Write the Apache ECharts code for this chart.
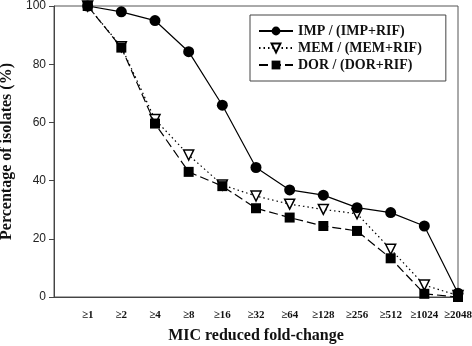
<!DOCTYPE html>
<html>
<head>
<meta charset="utf-8">
<script src="https://cdn.jsdelivr.net/npm/echarts@6/dist/echarts.min.js"></script>
<style>
html,body{margin:0;padding:0;background:#fff;}
#chart{width:472px;height:346px;}
</style>
</head>
<body>
<div id="chart"></div>
<script>
	// fold-change categories
	var categories = ['≥1','≥2','≥4','≥8','≥16','≥32','≥64','≥128','≥256','≥512','≥1024','≥2048'];
	// percentage of isolates
	var impValues = [100, 98, 95, 84.3, 65.9, 44.5, 36.8, 35, 30.7, 29, 24.4, 1.3];
	var memValues = [100, 86, 61, 48.8, 38.5, 34.7, 31.9, 30.1, 28.6, 16.4, 4.1, 0.5];
	var dorValues = [100, 85.7, 59.6, 43, 38.1, 30.5, 27.3, 24.4, 22.7, 13.3, 1.1, 0];
	var yTicks = [0, 20, 40, 60, 80, 100];

	function toPoints(list){
		var pts = [];
		for(var i = 0; i < list.length; i++){
			pts.push([i + 1, list[i]]);
		}
		return pts;
	}

	var serif = '"Liberation Serif", "DejaVu Serif", serif';
	var sans = '"Liberation Sans", Arial, sans-serif';

	var chart = echarts.init(document.getElementById('chart'));
	chart.setOption({
		animation:false,
		backgroundColor:'#fff',
		grid:{
			left:54,
			right:14,
			top:6,
			bottom:49,
			outerBoundsMode:'none',
			containLabel:false,
			show:true,
			borderColor:'#555',
			borderWidth:1
		},
		legend:{
			orient:'vertical',
			left:250,
			top:15,
			width:183,
			padding:[9,24,9,8],
			itemGap:3,
			itemWidth:34,
			itemHeight:11,
			borderColor:'#444',
			borderWidth:1,
			backgroundColor:'#fff',
			textStyle:{
				fontFamily:serif,
				fontWeight:'bold',
				fontSize:14,
				color:'#111'
			},
			data:['IMP / (IMP+RIF)','MEM / (MEM+RIF)','DOR / (DOR+RIF)']
		},
		xAxis:{
			type:'value',
			min:0,
			max:12,
			interval:1,
			name:'MIC reduced fold-change',
			nameLocation:'middle',
			nameGap:31,
			nameTextStyle:{
				fontFamily:serif,
				fontWeight:'bold',
				fontSize:16,
				color:'#111'
			},
			axisLine:{lineStyle:{color:'#444',width:1}},
			axisTick:{show:false},
			splitLine:{show:false},
			axisLabel:{
				margin:13,
				fontFamily:serif,
				fontWeight:'bold',
				fontSize:11,
				color:'#111',
				formatter:function(v){
					return v >= 1 ? categories[v - 1] : '';
				}
			}
		},
		yAxis:{
			type:'value',
			min:yTicks[0],
			max:yTicks[yTicks.length - 1],
			interval:20,
			name:'Percentage of isolates (%)',
			nameLocation:'middle',
			nameGap:39,
			nameTextStyle:{
				fontFamily:serif,
				fontWeight:'bold',
				fontSize:16,
				color:'#111'
			},
			axisLine:{show:true,lineStyle:{color:'#444',width:1}},
			axisTick:{show:true,length:5,lineStyle:{color:'#444'}},
			splitLine:{show:false},
			axisLabel:{
				margin:8,
				fontFamily:sans,
				fontSize:12,
				color:'#222'
			}
		},
		series:[{
			name:'IMP / (IMP+RIF)',
			type:'line',
			data:toPoints(impValues),
			symbol:'circle',
			symbolSize:11,
			itemStyle:{color:'#000'},
			lineStyle:{color:'#000',width:1.2,type:'solid'},
			z:4
		},{
			name:'MEM / (MEM+RIF)',
			type:'line',
			data:toPoints(memValues),
			symbol:'triangle',
			symbolRotate:180,
			symbolSize:10,
			itemStyle:{color:'#fff',borderColor:'#000',borderWidth:1.5},
			lineStyle:{color:'#000',width:1.2,type:[1.5,3]},
			z:2
		},{
			name:'DOR / (DOR+RIF)',
			type:'line',
			data:toPoints(dorValues),
			symbol:'rect',
			symbolSize:10,
			itemStyle:{color:'#000'},
			lineStyle:{color:'#000',width:1.2,type:[9,4]},
			z:3
		}]
	});
</script>
</body>
</html>
